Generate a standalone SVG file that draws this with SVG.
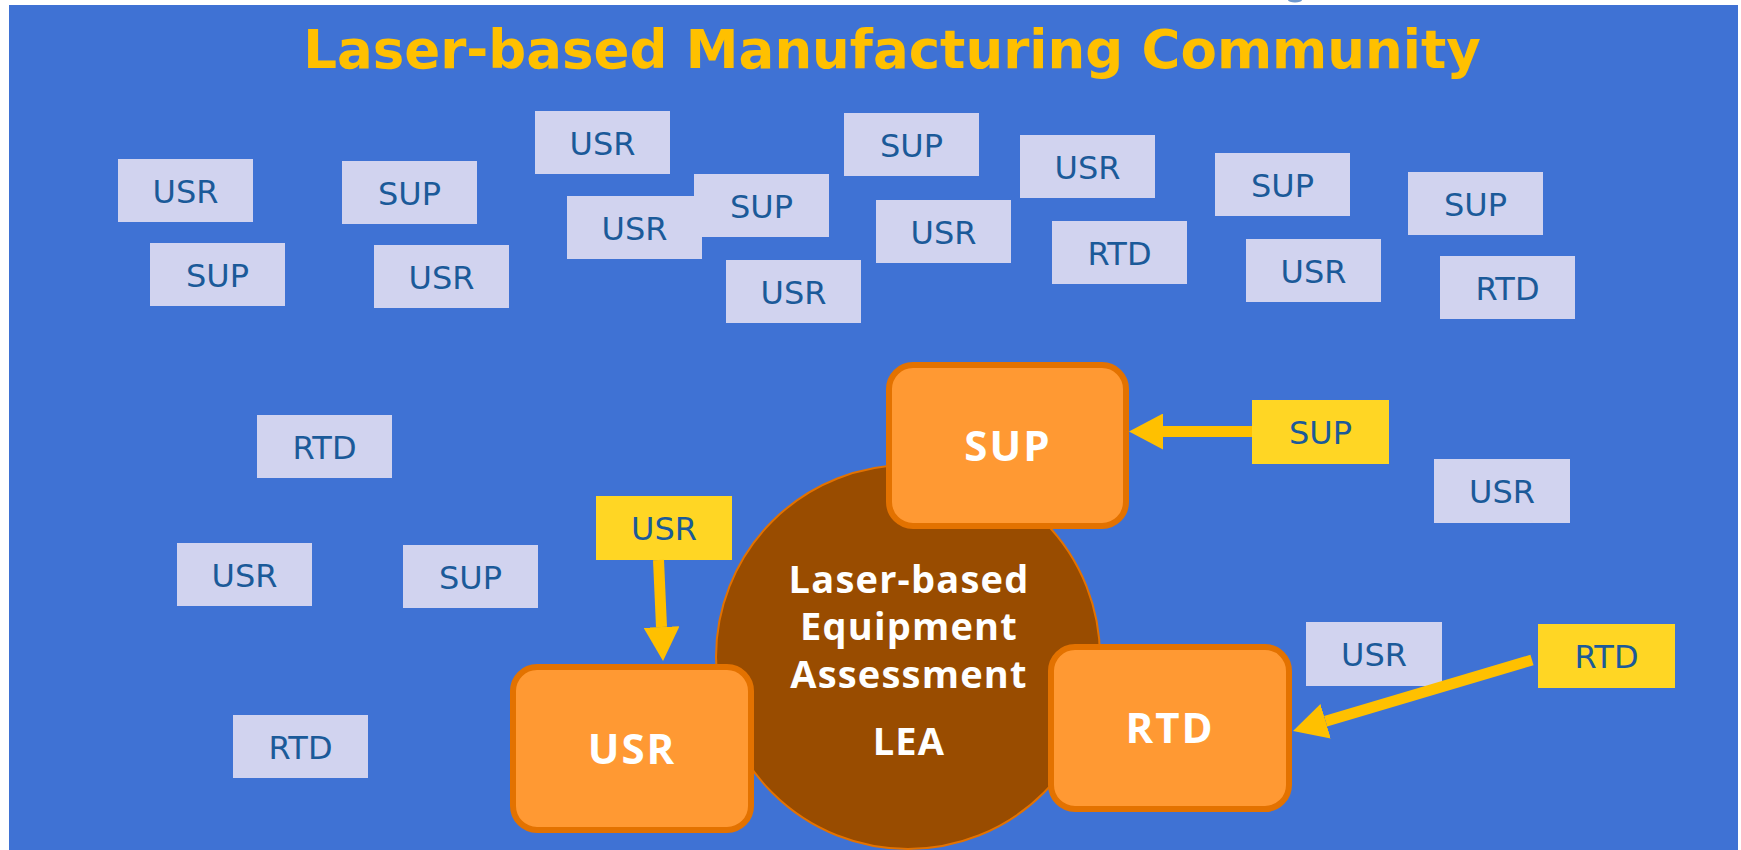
<svg xmlns="http://www.w3.org/2000/svg" width="1741" height="850" viewBox="0 0 1741 850">
  <defs>
    <style>
      .lt { fill: #D1D3EF; }
      .yl { fill: #FFD624; }
      .lbl { font-family: "DejaVu Sans", "Liberation Sans", sans-serif; font-size: 32px; fill: #1B5A99; text-anchor: middle; }
      .core { fill: #FF9933; stroke: #E37200; stroke-width: 6; }
      .coreTxt { font-family: "Open Sans", "Noto Sans", sans-serif; font-weight: 700; font-size: 42px; letter-spacing: 2px; fill: #FFFFFF; text-anchor: middle; }
      .hubTxt { font-family: "Open Sans", "Noto Sans", sans-serif; font-weight: 700; font-size: 38px; letter-spacing: 1.2px; fill: #FFFFFF; text-anchor: middle; }
      .conn { stroke: #FFC000; stroke-width: 11; fill: none; marker-end: url(#head); }
    </style>
    <marker id="head" markerUnits="userSpaceOnUse" markerWidth="34" markerHeight="36" viewBox="0 0 34 36" refX="0" refY="18" orient="auto">
      <path d="M0,0 L34,18 L0,36 Z" fill="#FFC000"/>
    </marker>
  </defs>

  <!-- page -->
  <rect x="0" y="0" width="1741" height="850" fill="#FFFFFF"/>
  <ellipse cx="1295" cy="0" rx="7" ry="2.5" fill="#6D98CF"/>
  <rect x="9" y="5" width="1729" height="845" fill="#3F72D4"/>

  <text x="892" y="68" font-family="'DejaVu Sans', 'Liberation Sans', sans-serif" font-weight="700" font-size="53" fill="#FFC000" text-anchor="middle">Laser-based Manufacturing Community</text>

  <!-- community members -->
  <g id="m1"><rect class="lt" x="118" y="159" width="135" height="63"/><text class="lbl" x="185.5" y="203">USR</text></g>
  <g id="m2"><rect class="lt" x="150" y="243" width="135" height="63"/><text class="lbl" x="217.5" y="287">SUP</text></g>
  <g id="m3"><rect class="lt" x="342" y="161" width="135" height="63"/><text class="lbl" x="409.5" y="205">SUP</text></g>
  <g id="m4"><rect class="lt" x="374" y="245" width="135" height="63"/><text class="lbl" x="441.5" y="289">USR</text></g>
  <g id="m5"><rect class="lt" x="535" y="111" width="135" height="63"/><text class="lbl" x="602.5" y="155">USR</text></g>
  <g id="m7"><rect class="lt" x="694" y="174" width="135" height="63"/><text class="lbl" x="761.5" y="218">SUP</text></g>
  <g id="m6"><rect class="lt" x="567" y="196" width="135" height="63"/><text class="lbl" x="634.5" y="240">USR</text></g>
  <g id="m8"><rect class="lt" x="726" y="260" width="135" height="63"/><text class="lbl" x="793.5" y="304">USR</text></g>
  <g id="m9"><rect class="lt" x="844" y="113" width="135" height="63"/><text class="lbl" x="911.5" y="157">SUP</text></g>
  <g id="m10"><rect class="lt" x="876" y="200" width="135" height="63"/><text class="lbl" x="943.5" y="244">USR</text></g>
  <g id="m11"><rect class="lt" x="1020" y="135" width="135" height="63"/><text class="lbl" x="1087.5" y="179">USR</text></g>
  <g id="m12"><rect class="lt" x="1052" y="221" width="135" height="63"/><text class="lbl" x="1119.5" y="265">RTD</text></g>
  <g id="m13"><rect class="lt" x="1215" y="153" width="135" height="63"/><text class="lbl" x="1282.5" y="197">SUP</text></g>
  <g id="m14"><rect class="lt" x="1246" y="239" width="135" height="63"/><text class="lbl" x="1313.5" y="283">USR</text></g>
  <g id="m15"><rect class="lt" x="1408" y="172" width="135" height="63"/><text class="lbl" x="1475.5" y="216">SUP</text></g>
  <g id="m16"><rect class="lt" x="1440" y="256" width="135" height="63"/><text class="lbl" x="1507.5" y="300">RTD</text></g>
  <g id="m17"><rect class="lt" x="257" y="415" width="135" height="63"/><text class="lbl" x="324.5" y="459">RTD</text></g>
  <g id="m18"><rect class="lt" x="177" y="543" width="135" height="63"/><text class="lbl" x="244.5" y="587">USR</text></g>
  <g id="m19"><rect class="lt" x="403" y="545" width="135" height="63"/><text class="lbl" x="470.5" y="589">SUP</text></g>
  <g id="m20"><rect class="lt" x="233" y="715" width="135" height="63"/><text class="lbl" x="300.5" y="759">RTD</text></g>
  <g id="m21"><rect class="lt" x="1434" y="459" width="136" height="64"/><text class="lbl" x="1502" y="503">USR</text></g>
  <g id="m22"><rect class="lt" x="1306" y="622" width="136" height="64"/><text class="lbl" x="1374" y="666">USR</text></g>

  <!-- LEA hub -->
  <g id="lea">
    <circle cx="908" cy="657" r="192" fill="#994C00" stroke="#E37200" stroke-width="2"/>
    <text class="hubTxt" x="909" y="593">Laser-based</text>
    <text class="hubTxt" x="909" y="640">Equipment</text>
    <text class="hubTxt" x="909" y="688">Assessment</text>
    <text class="hubTxt" x="909" y="755">LEA</text>
  </g>

  <!-- core roles -->
  <g id="coreSup"><rect class="core" x="889" y="365" width="237" height="161" rx="24"/><text class="coreTxt" x="1008" y="461">SUP</text></g>
  <g id="coreUsr"><rect class="core" x="513" y="667" width="238" height="163" rx="24"/><text class="coreTxt" x="632" y="764">USR</text></g>
  <g id="coreRtd"><rect class="core" x="1051" y="647" width="238" height="162" rx="24"/><text class="coreTxt" x="1170" y="743">RTD</text></g>

  <!-- joining members -->
  <g id="joinSup"><rect class="yl" x="1252" y="400" width="137" height="64"/><text class="lbl" x="1320.5" y="444">SUP</text></g>
  <g id="joinUsr"><rect class="yl" x="596" y="496" width="136" height="64"/><text class="lbl" x="664" y="540">USR</text></g>
  <g id="joinRtd"><rect class="yl" x="1538" y="624" width="137" height="64"/><text class="lbl" x="1606.5" y="668">RTD</text></g>

  <!-- connectors -->
  <g id="connectors">
    <line class="conn" x1="1252" y1="431.5" x2="1163" y2="431.5"/>
    <line class="conn" x1="658.5" y1="560" x2="661.5" y2="627"/>
    <line class="conn" x1="1532" y1="660" x2="1325.6" y2="721.3"/>
  </g>
</svg>
